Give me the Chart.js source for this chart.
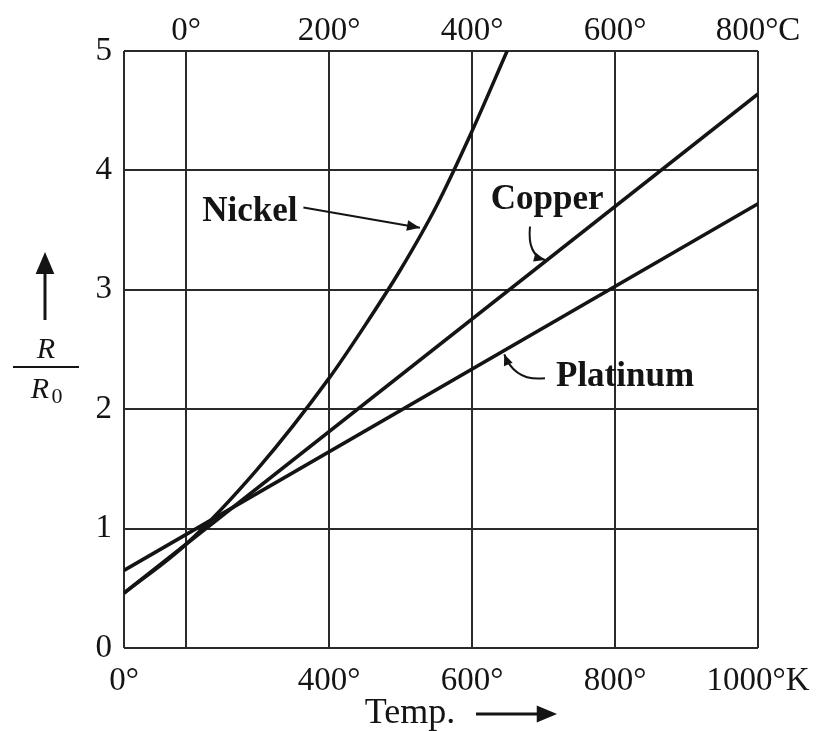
<!DOCTYPE html>
<html>
<head>
<meta charset="utf-8">
<title>R/R0 vs temperature</title>
<script src="https://cdn.jsdelivr.net/npm/chart.js@4.4.1/dist/chart.umd.min.js"></script>
<style>
  html, body { margin: 0; padding: 0; background: #ffffff; }
  #chart { display: block; }
</style>
</head>
<body>
<canvas id="chart" width="824" height="731"></canvas>
<script>
const xTickValues = [-87, 0, 200, 400, 600, 800];
const topTickLabels = ["", "0°", "200°", "400°", "600°", "800°C"];
const bottomTickLabels = ["0°", "", "400°", "600°", "800°", "1000°K"];
const yTickValues = [0, 1, 2, 3, 4, 5];

const copperTemps = [-87, 800];
const copperRatio = [0.46, 4.64];
const platinumTemps = [-87, 800];
const platinumRatio = [0.65, 3.72];
const nickelTemps = [-87, 0, 100, 200, 250, 300, 350, 400, 449];
const nickelRatio = [0.46, 0.87, 1.5, 2.26, 2.7, 3.17, 3.7, 4.33, 5.0];

const labelNotes = [
  { text: "Nickel", x: 89, y: 3.65, arrow: [[164, 3.69], null, [327, 3.52]] },
  { text: "Copper", x: 505, y: 3.75, arrow: [[481, 3.53], [477, 3.29], [502, 3.25]] },
  { text: "Platinum", x: 614, y: 2.27, arrow: [[502, 2.26], [460, 2.23], [445, 2.46]] },
];

const ink = "#141414";
const gridInk = "#2a2a2a";
const serif = "'Liberation Serif', 'Times New Roman', serif";

function toPoints(xs, ys) {
  return xs.map((x, i) => ({ x, y: ys[i] }));
}

function makeLine(label, xs, ys, smooth) {
  return {
    label,
    data: toPoints(xs, ys),
    borderColor: ink,
    borderWidth: 3.5,
    pointRadius: 0,
    fill: false,
    cubicInterpolationMode: smooth ? "monotone" : "default",
    tension: 0,
  };
}

function arrowHead(ctx, fromX, fromY, toX, toY, size) {
  const angle = Math.atan2(toY - fromY, toX - fromX);
  ctx.beginPath();
  ctx.moveTo(toX, toY);
  ctx.lineTo(toX - size * Math.cos(angle - 0.4), toY - size * Math.sin(angle - 0.4));
  ctx.lineTo(toX - size * Math.cos(angle + 0.4), toY - size * Math.sin(angle + 0.4));
  ctx.closePath();
  ctx.fill();
}

const notesPlugin = {
  id: "notes",
  afterDraw(chart) {
    const ctx = chart.ctx;
    const xs = chart.scales.x;
    const ys = chart.scales.y;
    ctx.save();
    ctx.fillStyle = ink;
    ctx.strokeStyle = ink;

    labelNotes.forEach((note) => {
      ctx.font = "bold 35px " + serif;
      ctx.textAlign = "center";
      ctx.textBaseline = "middle";
      ctx.fillText(note.text, xs.getPixelForValue(note.x), ys.getPixelForValue(note.y));

      const [start, ctrl, end] = note.arrow;
      const sx = xs.getPixelForValue(start[0]);
      const sy = ys.getPixelForValue(start[1]);
      const ex = xs.getPixelForValue(end[0]);
      const ey = ys.getPixelForValue(end[1]);
      ctx.lineWidth = 2;
      ctx.beginPath();
      ctx.moveTo(sx, sy);
      if (ctrl) {
        const cx = xs.getPixelForValue(ctrl[0]);
        const cy = ys.getPixelForValue(ctrl[1]);
        ctx.quadraticCurveTo(cx, cy, ex, ey);
        ctx.stroke();
        arrowHead(ctx, cx, cy, ex, ey, 12);
      } else {
        ctx.lineTo(ex, ey);
        ctx.stroke();
        arrowHead(ctx, sx, sy, ex, ey, 14);
      }
    });

    // x title
    ctx.font = "36px " + serif;
    ctx.textAlign = "center";
    ctx.textBaseline = "middle";
    ctx.fillText("Temp.", 410, 714);
    ctx.lineWidth = 3;
    ctx.beginPath();
    ctx.moveTo(476, 714);
    ctx.lineTo(540, 714);
    ctx.stroke();
    arrowHead(ctx, 476, 714, 557, 714, 22);

    // y title
    ctx.beginPath();
    ctx.moveTo(45, 320);
    ctx.lineTo(45, 270);
    ctx.stroke();
    arrowHead(ctx, 45, 320, 45, 252, 24);
    ctx.font = "italic 30px " + serif;
    ctx.fillText("R", 46, 350);
    ctx.lineWidth = 2;
    ctx.beginPath();
    ctx.moveTo(13, 367);
    ctx.lineTo(79, 367);
    ctx.stroke();
    ctx.fillText("R", 40, 390);
    ctx.font = "22px " + serif;
    ctx.fillText("0", 57, 397);
    ctx.restore();
  },
};

const bgPlugin = {
  id: "bg",
  beforeDraw(chart) {
    const ctx = chart.ctx;
    ctx.save();
    ctx.fillStyle = "#ffffff";
    ctx.fillRect(0, 0, chart.width, chart.height);
    ctx.restore();
  },
};

function fixTicks(values) {
  return (scale) => {
    scale.ticks = values.map((v) => ({ value: v }));
  };
}

new Chart(document.getElementById("chart"), {
  type: "line",
  data: {
    datasets: [
      makeLine("Nickel", nickelTemps, nickelRatio, true),
      makeLine("Copper", copperTemps, copperRatio, false),
      makeLine("Platinum", platinumTemps, platinumRatio, false),
    ],
  },
  plugins: [bgPlugin, notesPlugin],
  options: {
    responsive: false,
    devicePixelRatio: 1,
    animation: false,
    layout: { padding: { left: 0, right: 66, top: 0, bottom: 0 } },
    plugins: { legend: { display: false }, tooltip: { enabled: false } },
    scales: {
      x: {
        type: "linear",
        position: "bottom",
        min: -87,
        max: 800,
        afterBuildTicks: fixTicks(xTickValues),
        afterFit: (scale) => { scale.height = 83; },
        grid: { color: gridInk, lineWidth: 2, drawTicks: false },
        border: { display: false },
        ticks: {
          autoSkip: false,
          maxRotation: 0,
          padding: 14,
          color: ink,
          font: { family: serif, size: 33 },
          callback: (value, index) => bottomTickLabels[index],
        },
      },
      x2: {
        type: "linear",
        position: "top",
        min: -87,
        max: 800,
        afterBuildTicks: fixTicks(xTickValues),
        afterFit: (scale) => { scale.height = 51; },
        grid: { display: false, drawTicks: false },
        border: { display: false },
        ticks: {
          autoSkip: false,
          maxRotation: 0,
          padding: 0,
          color: ink,
          font: { family: serif, size: 33 },
          callback: (value, index) => topTickLabels[index],
        },
      },
      y: {
        type: "linear",
        min: 0,
        max: 5,
        afterBuildTicks: fixTicks(yTickValues),
        afterFit: (scale) => { scale.width = 124; },
        grid: { color: gridInk, lineWidth: 2, drawTicks: false },
        border: { display: false },
        ticks: {
          padding: 12,
          color: ink,
          font: { family: serif, size: 33 },
        },
      },
    },
  },
});
</script>
</body>
</html>
